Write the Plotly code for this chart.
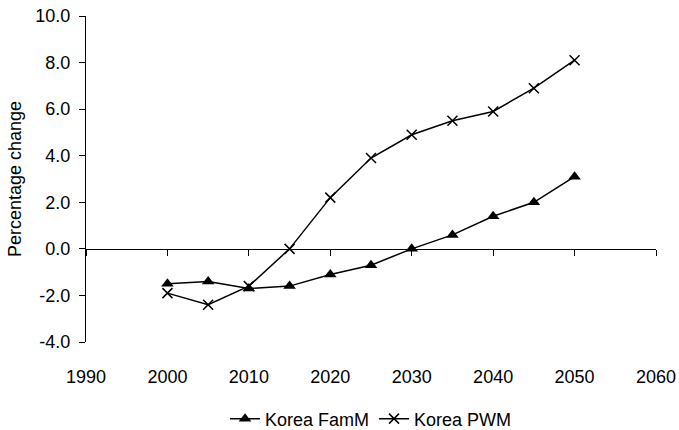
import plotly.graph_objects as go

years = [2000, 2005, 2010, 2015, 2020, 2025, 2030, 2035, 2040, 2045, 2050]
korea_famm = [-1.5, -1.4, -1.7, -1.6, -1.1, -0.7, 0.0, 0.6, 1.4, 2.0, 3.1]
korea_pwm = [-1.9, -2.4, -1.6, 0.0, 2.2, 3.9, 4.9, 5.5, 5.9, 6.9, 8.1]
y_ticks = [-4, -2, 0, 2, 4, 6, 8, 10]
x_ticks = [1990, 2000, 2010, 2020, 2030, 2040, 2050, 2060]

FONT = "Liberation Sans, Arial, sans-serif"
FS = 18
Y_MIN, Y_MAX = -4, 10
X_MIN, X_MAX = 1990, 2060

fig = go.Figure()
fig.add_trace(go.Scatter(
    x=years, y=korea_famm, name="Korea FamM", mode="lines+markers",
    line=dict(color="black", width=1.5),
    marker=dict(symbol="triangle-up", size=11, color="black"),
))
fig.add_trace(go.Scatter(
    x=years, y=korea_pwm, name="Korea PWM", mode="lines+markers",
    line=dict(color="black", width=1.5),
    marker=dict(symbol="x-thin", size=10, color="black",
                line=dict(color="black", width=1.5)),
))
# invisible helper trace so the zero-line axis (xaxis2) is drawn
fig.add_trace(go.Scatter(
    x=years, y=korea_famm, xaxis="x2", mode="markers",
    marker=dict(opacity=0), showlegend=False, hoverinfo="skip",
))

zero_pos = (0 - Y_MIN) / (Y_MAX - Y_MIN)

fig.update_layout(
    width=679, height=430,
    margin=dict(l=86, r=23, t=16, b=88, autoexpand=False),
    paper_bgcolor="white", plot_bgcolor="white",
    font=dict(family=FONT, size=FS, color="black"),
    showlegend=True,
    legend=dict(orientation="h", x=0.5, xanchor="center", y=-0.236,
                yanchor="middle", font=dict(size=FS), bgcolor="rgba(0,0,0,0)"),
    xaxis=dict(range=[X_MIN, X_MAX], tickvals=x_ticks, ticktext=[str(v) for v in x_ticks],
               showgrid=False, zeroline=False, showline=False, ticks="",
               ticklabelstandoff=22, tickfont=dict(size=FS), automargin=False,
               ticklabeloverflow="allow"),
    xaxis2=dict(range=[X_MIN, X_MAX], tickvals=x_ticks, overlaying="x",
                anchor="free", position=zero_pos, side="bottom",
                showgrid=False, zeroline=False, showline=True, linecolor="black",
                linewidth=1, ticks="outside", ticklen=6, tickcolor="black",
                showticklabels=False, automargin=False),
    yaxis=dict(range=[Y_MIN, Y_MAX], tickvals=y_ticks,
               ticktext=[f"{v:.1f}" for v in y_ticks],
               showgrid=False, zeroline=False, showline=True, linecolor="black",
               linewidth=1, ticks="outside", ticklen=6, tickcolor="black",
               ticklabelstandoff=5, tickfont=dict(size=FS), automargin=False,
               ticklabeloverflow="allow",
               title=dict(text="Percentage change", font=dict(size=FS), standoff=9)),
)

fig.write_html(
    "out.html",
    config={"displayModeBar": False},
    post_script="document.body.style.margin='0';document.body.style.overflow='hidden';",
)
